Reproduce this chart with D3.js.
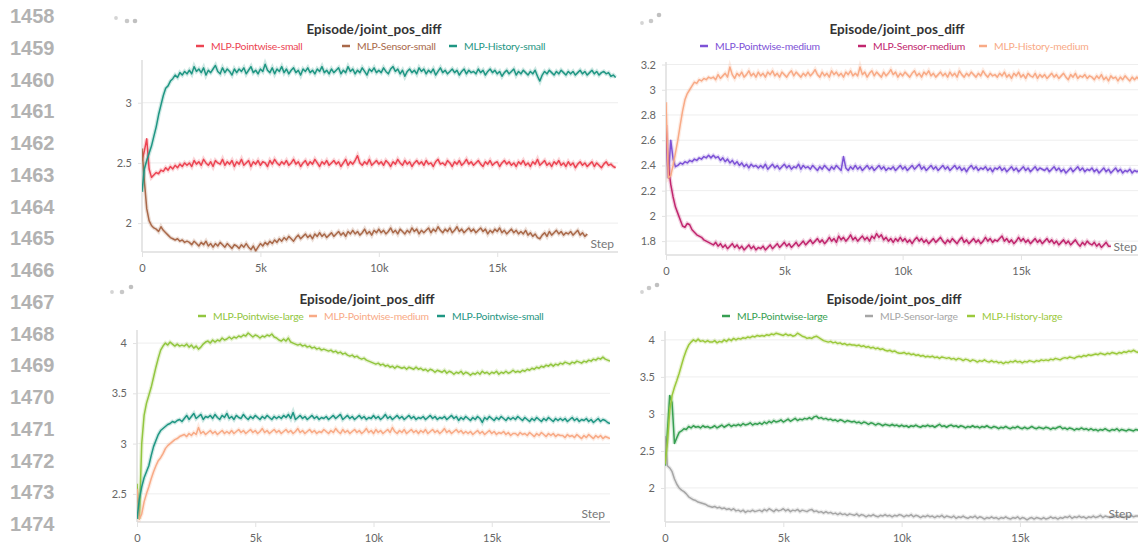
<!DOCTYPE html>
<html>
<head>
<meta charset="utf-8">
<script src="https://cdn.jsdelivr.net/npm/d3@7"></script>
<style>
  body { margin: 0; background: #fff; }
  svg { display: block; font-family: Lato, "Open Sans", sans-serif; }
</style>
</head>
<body>
<svg id="chart" width="1138" height="545"></svg>
<script>
// logged every 100 steps
var steps = d3.range(0, 20001, 100);
var xTicks = [0, 5000, 10000, 15000];
var lineNumbers = d3.range(1458, 1475);

// ---- top left: small models
var pointwiseSmall = [
  2.52, 2.6, 2.7, 2.45, 2.38, 2.4, 2.42, 2.41, 2.44, 2.43, 2.46, 2.44, 2.47, 2.45, 2.48, 2.46, 2.49, 2.47, 2.5, 2.48,
  2.5, 2.47, 2.52, 2.49, 2.51, 2.48, 2.53, 2.5, 2.48, 2.51, 2.47, 2.52, 2.5, 2.49, 2.53, 2.48, 2.51, 2.49, 2.52, 2.47,
  2.51, 2.49, 2.53, 2.48, 2.5, 2.52, 2.47, 2.51, 2.49, 2.52, 2.48, 2.51, 2.5, 2.47, 2.52, 2.49, 2.53, 2.5, 2.48, 2.51,
  2.49, 2.52, 2.48, 2.5, 2.53, 2.49, 2.51, 2.47, 2.5, 2.52, 2.48, 2.51, 2.49, 2.53, 2.5, 2.47, 2.51, 2.49, 2.52, 2.48,
  2.5, 2.52, 2.49, 2.51, 2.47, 2.5, 2.53, 2.48, 2.51, 2.49, 2.52, 2.56, 2.5, 2.48, 2.51, 2.49, 2.53, 2.48, 2.5, 2.52,
  2.49, 2.51, 2.48, 2.52, 2.5, 2.47, 2.51, 2.49, 2.53, 2.5, 2.48, 2.52, 2.49, 2.51, 2.47, 2.5, 2.52, 2.49, 2.51, 2.48,
  2.52, 2.49, 2.5, 2.47, 2.51, 2.53, 2.49, 2.5, 2.48, 2.52, 2.5, 2.47, 2.51, 2.49, 2.52, 2.48, 2.5, 2.53, 2.49, 2.51,
  2.48, 2.5, 2.52, 2.49, 2.47, 2.51, 2.49, 2.52, 2.48, 2.5, 2.51, 2.47, 2.5, 2.52, 2.49, 2.51, 2.48, 2.5, 2.47, 2.51,
  2.49, 2.52, 2.48, 2.5, 2.47, 2.51, 2.49, 2.53, 2.48, 2.5, 2.52, 2.48, 2.5, 2.47, 2.51, 2.49, 2.52, 2.48, 2.5, 2.47,
  2.51, 2.48, 2.5, 2.46, 2.49, 2.51, 2.48, 2.5, 2.47, 2.49, 2.51, 2.47, 2.5, 2.48, 2.46, 2.49, 2.51, 2.48, 2.49, 2.47,
  2.46];
var sensorSmall = [
  2.62, 2.35, 2.12, 2.02, 1.98, 1.96, 1.95, 1.93, 1.97, 1.94, 1.92, 1.9, 1.88, 1.87, 1.86, 1.87, 1.85, 1.86, 1.84, 1.85,
  1.84, 1.82, 1.85, 1.83, 1.81, 1.84, 1.82, 1.85, 1.81, 1.83, 1.8, 1.83, 1.81, 1.84, 1.82, 1.8, 1.83, 1.81, 1.79, 1.82,
  1.81, 1.79, 1.82, 1.8, 1.83, 1.8, 1.78, 1.81, 1.77, 1.8, 1.83, 1.81, 1.84, 1.82, 1.85, 1.83, 1.86, 1.84, 1.87, 1.85,
  1.88, 1.86, 1.89, 1.87, 1.85, 1.88, 1.9, 1.87, 1.89, 1.91, 1.88, 1.9, 1.87, 1.91, 1.89, 1.92, 1.89, 1.91, 1.88, 1.9,
  1.92, 1.89, 1.91, 1.93, 1.9, 1.92, 1.89, 1.93, 1.91, 1.94, 1.91, 1.93, 1.9, 1.92, 1.95, 1.91, 1.93, 1.9, 1.94, 1.92,
  1.95, 1.92, 1.94, 1.91, 1.93, 1.96, 1.92, 1.94, 1.91, 1.95, 1.93, 1.91, 1.94, 1.92, 1.96, 1.93, 1.95, 1.91, 1.94, 1.92,
  1.94, 1.96, 1.92, 1.95, 1.93, 1.97, 1.94, 1.92, 1.95, 1.93, 1.96, 1.92, 1.94, 1.97, 1.93, 1.95, 1.92, 1.94, 1.96, 1.93,
  1.95, 1.92, 1.94, 1.96, 1.93, 1.95, 1.91, 1.94, 1.92, 1.95, 1.93, 1.96, 1.92, 1.94, 1.91, 1.93, 1.95, 1.92, 1.94, 1.91,
  1.93, 1.91, 1.94, 1.9, 1.92, 1.89, 1.91, 1.88, 1.87, 1.9, 1.92, 1.89, 1.93, 1.9, 1.92, 1.94, 1.91, 1.93, 1.9, 1.92,
  1.91, 1.93, 1.9, 1.92, 1.94, 1.9, 1.92, 1.89, 1.91];
var historySmall = [
  2.26, 2.45, 2.52, 2.58, 2.64, 2.72, 2.8, 2.9, 2.98, 3.06, 3.12, 3.14, 3.18, 3.2, 3.23, 3.21, 3.25, 3.23, 3.26, 3.24,
  3.27, 3.24, 3.3, 3.26, 3.28, 3.25, 3.29, 3.23, 3.27, 3.25, 3.28, 3.31, 3.26, 3.24, 3.29, 3.25, 3.28, 3.26, 3.23, 3.28,
  3.25, 3.28, 3.26, 3.29, 3.24, 3.27, 3.3, 3.25, 3.27, 3.24, 3.28, 3.26, 3.32, 3.27, 3.25, 3.29, 3.24, 3.28, 3.26, 3.3,
  3.25, 3.28, 3.24, 3.27, 3.29, 3.25, 3.27, 3.23, 3.28, 3.26, 3.29, 3.25, 3.27, 3.24, 3.28, 3.26, 3.3, 3.25, 3.27, 3.24,
  3.28, 3.25, 3.27, 3.29, 3.24, 3.27, 3.25, 3.3, 3.26, 3.28, 3.24, 3.27, 3.25, 3.29, 3.26, 3.23, 3.28, 3.26, 3.29, 3.25,
  3.27, 3.25, 3.29, 3.26, 3.24, 3.28, 3.3, 3.26, 3.28, 3.24, 3.27, 3.22, 3.26, 3.28, 3.25, 3.27, 3.24, 3.29, 3.26, 3.28,
  3.24, 3.27, 3.25, 3.28, 3.23, 3.26, 3.29, 3.25, 3.27, 3.24, 3.26, 3.28, 3.25, 3.27, 3.23, 3.26, 3.28, 3.24, 3.27, 3.25,
  3.26, 3.24, 3.28, 3.25, 3.27, 3.23, 3.26, 3.28, 3.25, 3.27, 3.24, 3.26, 3.22, 3.25, 3.27, 3.24, 3.26, 3.28, 3.23, 3.26,
  3.24, 3.27, 3.25, 3.23, 3.26, 3.24, 3.27, 3.22, 3.18, 3.23, 3.26, 3.24, 3.27, 3.25, 3.23, 3.26, 3.24, 3.27, 3.25, 3.23,
  3.26, 3.24, 3.26, 3.23, 3.25, 3.27, 3.24, 3.26, 3.23, 3.25, 3.27, 3.24, 3.26, 3.23, 3.25, 3.26, 3.24, 3.25, 3.22, 3.23,
  3.21];

// ---- top right: medium models
var pointwiseMedium = [
  2.62, 2.3, 2.6, 2.45, 2.39, 2.4, 2.42, 2.41, 2.43, 2.42, 2.44, 2.43, 2.45, 2.44, 2.46, 2.45, 2.47, 2.46, 2.48, 2.46,
  2.48, 2.46, 2.47, 2.44, 2.46, 2.43, 2.45, 2.42, 2.44, 2.41, 2.43, 2.4, 2.42, 2.39, 2.41, 2.38, 2.41, 2.39, 2.4, 2.38,
  2.4, 2.38, 2.41, 2.37, 2.39, 2.41, 2.38, 2.4, 2.37, 2.39, 2.41, 2.38, 2.4, 2.37, 2.39, 2.38, 2.41, 2.37, 2.4, 2.38,
  2.39, 2.37, 2.4, 2.38, 2.36, 2.39, 2.37, 2.4, 2.38, 2.36, 2.39, 2.37, 2.4, 2.38, 2.36, 2.47, 2.38, 2.36, 2.39, 2.37,
  2.4, 2.37, 2.39, 2.36, 2.38, 2.4, 2.37, 2.39, 2.36, 2.38, 2.4, 2.37, 2.39, 2.36, 2.38, 2.37, 2.39, 2.36, 2.38, 2.4,
  2.37, 2.39, 2.36, 2.38, 2.4, 2.37, 2.39, 2.41, 2.37, 2.39, 2.36, 2.38, 2.4, 2.37, 2.39, 2.36, 2.38, 2.4, 2.37, 2.39,
  2.36, 2.38, 2.4, 2.37, 2.39, 2.36, 2.38, 2.35, 2.38, 2.4, 2.37, 2.39, 2.36, 2.38, 2.37, 2.39, 2.36, 2.38, 2.35, 2.38,
  2.37, 2.39, 2.36, 2.38, 2.35, 2.37, 2.39, 2.36, 2.38, 2.35, 2.37, 2.39, 2.36, 2.38, 2.35, 2.37, 2.39, 2.36, 2.38, 2.37,
  2.36, 2.38, 2.35, 2.37, 2.39, 2.36, 2.38, 2.35, 2.37, 2.34, 2.36, 2.38, 2.35, 2.37, 2.39, 2.36, 2.38, 2.35, 2.37, 2.36,
  2.38, 2.35, 2.37, 2.34, 2.36, 2.38, 2.35, 2.37, 2.34, 2.36, 2.38, 2.35, 2.37, 2.34, 2.36, 2.35, 2.37, 2.34, 2.36, 2.35,
  2.36];
var sensorMedium = [
  2.72, 2.4, 2.25, 2.15, 2.07, 2.02, 1.97, 1.92, 1.91, 1.94, 1.93, 1.89, 1.87, 1.85, 1.84, 1.83, 1.81, 1.8, 1.79, 1.78,
  1.77, 1.79, 1.76, 1.78, 1.75, 1.77, 1.74, 1.76, 1.78, 1.75, 1.77, 1.74, 1.76, 1.73, 1.75, 1.77, 1.74, 1.76, 1.73, 1.75,
  1.74, 1.76, 1.73, 1.75, 1.77, 1.74, 1.76, 1.78, 1.75, 1.77, 1.79, 1.76, 1.78, 1.75, 1.77, 1.79, 1.76, 1.78, 1.8, 1.77,
  1.79, 1.81, 1.78, 1.8, 1.82, 1.79, 1.81, 1.78, 1.8, 1.83, 1.8, 1.82, 1.79, 1.84, 1.81, 1.83, 1.8, 1.82, 1.85, 1.81,
  1.83, 1.8, 1.82, 1.84, 1.81, 1.83, 1.8, 1.84, 1.82, 1.86, 1.83, 1.85, 1.81, 1.83, 1.8, 1.82, 1.79, 1.82, 1.8, 1.83,
  1.8, 1.82, 1.79, 1.81, 1.78, 1.81, 1.83, 1.8, 1.82, 1.79, 1.81, 1.78, 1.8, 1.82, 1.79, 1.81, 1.83, 1.8, 1.78, 1.81,
  1.79, 1.82, 1.8, 1.78, 1.81, 1.83, 1.79, 1.81, 1.78, 1.8, 1.82, 1.79, 1.81, 1.78, 1.8, 1.83, 1.8, 1.82, 1.79, 1.81,
  1.8, 1.82, 1.84, 1.8, 1.82, 1.79, 1.81, 1.78, 1.8, 1.83, 1.8, 1.82, 1.79, 1.81, 1.78, 1.8, 1.82, 1.79, 1.81, 1.78,
  1.8, 1.82, 1.79, 1.81, 1.78, 1.8, 1.77, 1.79, 1.81, 1.78, 1.8, 1.77, 1.79, 1.81, 1.78, 1.76, 1.79, 1.77, 1.8, 1.78,
  1.77, 1.79, 1.76, 1.78, 1.75, 1.77, 1.79, 1.76, 1.76];
var historyMedium = [
  2.9, 2.3, 2.32, 2.4, 2.5, 2.6, 2.72, 2.83, 2.92, 2.97, 3.0, 3.03, 3.06, 3.05, 3.08, 3.07, 3.09, 3.08, 3.1, 3.09,
  3.1, 3.08, 3.12, 3.09, 3.11, 3.13, 3.1, 3.18, 3.12, 3.09, 3.13, 3.11, 3.14, 3.1, 3.12, 3.15, 3.11, 3.13, 3.1, 3.14,
  3.11, 3.13, 3.1, 3.14, 3.12, 3.15, 3.11, 3.13, 3.1, 3.14, 3.12, 3.1, 3.13, 3.15, 3.11, 3.14, 3.12, 3.1, 3.13, 3.11,
  3.14, 3.11, 3.13, 3.16, 3.12, 3.1, 3.14, 3.11, 3.13, 3.1, 3.15, 3.12, 3.14, 3.11, 3.13, 3.1, 3.14, 3.12, 3.15, 3.11,
  3.13, 3.11, 3.18, 3.12, 3.14, 3.1, 3.13, 3.15, 3.11, 3.14, 3.12, 3.1, 3.14, 3.11, 3.13, 3.16, 3.12, 3.14, 3.1, 3.13,
  3.11, 3.14, 3.12, 3.1, 3.13, 3.15, 3.11, 3.13, 3.1, 3.14, 3.12, 3.15, 3.11, 3.13, 3.1, 3.12, 3.14, 3.11, 3.13, 3.1,
  3.14, 3.11, 3.13, 3.1, 3.15, 3.12, 3.1, 3.13, 3.11, 3.14, 3.12, 3.1, 3.13, 3.11, 3.15, 3.12, 3.1, 3.13, 3.11, 3.12,
  3.1, 3.13, 3.11, 3.14, 3.1, 3.12, 3.09, 3.13, 3.11, 3.14, 3.1, 3.12, 3.09, 3.13, 3.11, 3.1, 3.13, 3.09, 3.12, 3.1,
  3.12, 3.09, 3.11, 3.13, 3.1, 3.12, 3.09, 3.11, 3.13, 3.1, 3.08, 3.12, 3.1, 3.13, 3.09, 3.11, 3.1, 3.12, 3.09, 3.11,
  3.1, 3.08, 3.11, 3.09, 3.12, 3.08, 3.1, 3.07, 3.11, 3.09, 3.1, 3.07, 3.1, 3.08, 3.11, 3.09, 3.07, 3.1, 3.08, 3.1,
  3.08];

// ---- bottom left: pointwise sizes
var pwLarge = [
  2.6, 2.25, 3.0, 3.28, 3.4, 3.48, 3.56, 3.66, 3.76, 3.85, 3.93, 3.97, 4.0, 3.98, 4.01, 3.99, 3.97, 3.99, 3.97, 3.98,
  3.97, 3.99, 3.96, 3.98, 3.95, 3.97, 3.94, 3.96, 3.99, 4.01, 4.02, 4.0, 4.03, 4.01, 4.03, 4.02, 4.05, 4.03, 4.04, 4.06,
  4.04, 4.06, 4.05, 4.07, 4.06, 4.08, 4.07, 4.1, 4.08, 4.06, 4.08, 4.07, 4.05, 4.07, 4.06, 4.08, 4.07, 4.09, 4.06, 4.05,
  4.03, 4.02, 4.04, 4.02, 4.05, 4.01, 4.0, 3.99, 3.98, 3.99, 3.97, 3.98, 3.96, 3.97, 3.95, 3.96, 3.94, 3.95, 3.93, 3.94,
  3.93, 3.92, 3.93, 3.91, 3.92, 3.9, 3.91, 3.89, 3.9, 3.88, 3.87, 3.88, 3.86, 3.87, 3.85, 3.84, 3.85, 3.83, 3.82, 3.81,
  3.8, 3.79, 3.8, 3.78, 3.79, 3.77, 3.78, 3.76, 3.77, 3.75, 3.77, 3.76, 3.75, 3.76, 3.74, 3.76, 3.75, 3.74, 3.76, 3.74,
  3.75, 3.73, 3.74, 3.72, 3.74, 3.73, 3.71, 3.73, 3.72, 3.71, 3.73, 3.7, 3.72, 3.71, 3.69, 3.71, 3.7, 3.72, 3.69, 3.71,
  3.7, 3.68, 3.7, 3.69, 3.71, 3.69, 3.72, 3.7, 3.71, 3.69, 3.71, 3.7, 3.72, 3.69, 3.71, 3.7, 3.72, 3.7, 3.71, 3.73,
  3.71, 3.72, 3.71, 3.73, 3.72, 3.74, 3.73, 3.75, 3.74, 3.76, 3.75, 3.77, 3.76, 3.78, 3.77, 3.79, 3.77, 3.79, 3.78, 3.8,
  3.79, 3.81, 3.8, 3.79, 3.81, 3.8, 3.82, 3.81, 3.8, 3.82, 3.81, 3.83, 3.82, 3.84, 3.83, 3.85, 3.84, 3.86, 3.84, 3.83,
  3.82];
var pwMedium = [
  2.55, 2.25, 2.3, 2.42, 2.5, 2.57, 2.65, 2.72, 2.78, 2.83, 2.86, 2.9, 2.95, 2.98, 3.0, 3.02, 3.04, 3.05, 3.07, 3.08,
  3.09, 3.07, 3.1, 3.08, 3.11, 3.09, 3.16, 3.1, 3.12, 3.09, 3.11, 3.13, 3.1, 3.12, 3.09, 3.11, 3.13, 3.1, 3.12, 3.1,
  3.13, 3.1, 3.12, 3.14, 3.11, 3.13, 3.1, 3.12, 3.14, 3.11, 3.13, 3.1, 3.12, 3.15, 3.11, 3.13, 3.1, 3.12, 3.14, 3.11,
  3.13, 3.1, 3.12, 3.14, 3.11, 3.13, 3.1, 3.12, 3.15, 3.11, 3.13, 3.1, 3.12, 3.14, 3.11, 3.13, 3.1, 3.12, 3.11, 3.14,
  3.12, 3.1, 3.13, 3.11, 3.15, 3.12, 3.1, 3.14, 3.11, 3.13, 3.1, 3.12, 3.14, 3.11, 3.13, 3.1, 3.12, 3.15, 3.11, 3.13,
  3.1, 3.14, 3.11, 3.13, 3.1, 3.12, 3.14, 3.11, 3.16, 3.12, 3.1, 3.13, 3.11, 3.14, 3.1, 3.12, 3.14, 3.11, 3.13, 3.1,
  3.13, 3.11, 3.14, 3.1, 3.12, 3.14, 3.11, 3.13, 3.1, 3.12, 3.15, 3.11, 3.13, 3.1, 3.12, 3.14, 3.11, 3.13, 3.1, 3.12,
  3.1, 3.12, 3.09, 3.11, 3.13, 3.1, 3.12, 3.09, 3.11, 3.13, 3.1, 3.12, 3.09, 3.11, 3.1, 3.12, 3.09, 3.11, 3.08, 3.1,
  3.1, 3.08, 3.11, 3.09, 3.1, 3.08, 3.11, 3.09, 3.07, 3.1, 3.08, 3.11, 3.09, 3.07, 3.1, 3.08, 3.1, 3.07, 3.09, 3.08,
  3.08, 3.06, 3.09, 3.07, 3.08, 3.06, 3.09, 3.07, 3.05, 3.08, 3.06, 3.09, 3.07, 3.05, 3.08, 3.06, 3.08, 3.05, 3.07, 3.06,
  3.05];
var pwSmall = [
  2.25, 2.45, 2.57, 2.66, 2.72, 2.78, 2.88, 2.97, 3.03, 3.09, 3.13, 3.15, 3.17, 3.19, 3.2, 3.22, 3.21, 3.23, 3.24, 3.22,
  3.25, 3.28, 3.24, 3.27, 3.3, 3.25, 3.27, 3.29, 3.24, 3.27, 3.26, 3.28, 3.25, 3.29, 3.26, 3.24, 3.28, 3.26, 3.3, 3.25,
  3.27, 3.24, 3.28, 3.26, 3.25, 3.29, 3.26, 3.24, 3.27, 3.25, 3.28, 3.26, 3.24, 3.27, 3.25, 3.28, 3.26, 3.24, 3.27, 3.25,
  3.27, 3.25, 3.28, 3.26, 3.29, 3.25, 3.31, 3.24, 3.26, 3.28, 3.25, 3.27, 3.24, 3.26, 3.28, 3.25, 3.27, 3.24, 3.26, 3.25,
  3.27, 3.24, 3.26, 3.28, 3.25, 3.27, 3.29, 3.24, 3.26, 3.28, 3.25, 3.27, 3.24, 3.26, 3.28, 3.25, 3.27, 3.24, 3.26, 3.25,
  3.28, 3.25, 3.27, 3.24, 3.26, 3.29, 3.25, 3.27, 3.24, 3.26, 3.28, 3.25, 3.27, 3.24, 3.26, 3.28, 3.25, 3.27, 3.24, 3.26,
  3.25, 3.27, 3.24, 3.26, 3.28, 3.25, 3.27, 3.24, 3.26, 3.25, 3.27, 3.24, 3.26, 3.28, 3.25, 3.27, 3.23, 3.26, 3.24, 3.27,
  3.25, 3.23, 3.26, 3.24, 3.27, 3.25, 3.21, 3.26, 3.24, 3.27, 3.25, 3.23, 3.26, 3.24, 3.27, 3.25, 3.23, 3.26, 3.24, 3.26,
  3.24, 3.27, 3.25, 3.23, 3.26, 3.24, 3.22, 3.25, 3.23, 3.26, 3.24, 3.22, 3.25, 3.23, 3.26, 3.24, 3.22, 3.25, 3.23, 3.25,
  3.23, 3.25, 3.22, 3.24, 3.26, 3.23, 3.25, 3.22, 3.24, 3.23, 3.25, 3.22, 3.24, 3.21, 3.23, 3.25, 3.22, 3.24, 3.23, 3.21,
  3.2];

// ---- bottom right: large models
var pointwiseLarge = [
  2.3, 2.75, 3.25, 3.15, 2.6, 2.68, 2.75, 2.77, 2.8, 2.79, 2.83, 2.81, 2.84, 2.82, 2.83, 2.81, 2.84, 2.82, 2.83, 2.81,
  2.82, 2.84, 2.81, 2.83, 2.85, 2.82, 2.84, 2.86, 2.83, 2.85, 2.84, 2.86, 2.84, 2.87, 2.85, 2.86, 2.88, 2.85, 2.87, 2.86,
  2.88, 2.86, 2.89, 2.87, 2.9, 2.88, 2.91, 2.89, 2.9, 2.92, 2.89, 2.91, 2.93, 2.9, 2.92, 2.94, 2.91, 2.93, 2.92, 2.94,
  2.93, 2.95, 2.93, 2.96, 2.97, 2.94, 2.95, 2.93, 2.94, 2.92, 2.93, 2.91, 2.92, 2.9, 2.92, 2.91, 2.89, 2.91, 2.9, 2.89,
  2.9, 2.88, 2.89, 2.87, 2.89, 2.88, 2.86, 2.88, 2.87, 2.85, 2.87, 2.86, 2.84, 2.86, 2.85, 2.84, 2.86, 2.84, 2.85, 2.83,
  2.85, 2.83, 2.84, 2.82, 2.84, 2.83, 2.85, 2.83, 2.82, 2.84, 2.83, 2.85, 2.83, 2.84, 2.82, 2.84, 2.86, 2.83, 2.84, 2.82,
  2.84, 2.85, 2.83, 2.84, 2.82, 2.84, 2.83, 2.81, 2.83, 2.82, 2.84, 2.82, 2.83, 2.81, 2.83, 2.82, 2.84, 2.82, 2.81, 2.83,
  2.82, 2.8, 2.82, 2.81, 2.83, 2.81, 2.8, 2.82, 2.81, 2.83, 2.81, 2.8, 2.82, 2.8, 2.81, 2.83, 2.81, 2.8, 2.82, 2.81,
  2.8, 2.82, 2.81, 2.79, 2.81, 2.8, 2.82, 2.83, 2.8, 2.81, 2.79, 2.81, 2.8, 2.78, 2.8, 2.79, 2.81, 2.79, 2.8, 2.78,
  2.8, 2.78, 2.79, 2.77, 2.79, 2.78, 2.8, 2.78, 2.77, 2.79, 2.78, 2.8, 2.77, 2.79, 2.78, 2.77, 2.79, 2.78, 2.77, 2.79,
  2.78];
var sensorLarge = [
  2.7, 2.3, 2.27, 2.22, 2.12, 2.05, 2.0, 1.97, 1.95, 1.92, 1.88, 1.86, 1.84, 1.83, 1.81, 1.8, 1.79, 1.78, 1.76, 1.75,
  1.74, 1.75, 1.73, 1.74, 1.72, 1.73, 1.71, 1.72, 1.7, 1.72, 1.69, 1.7, 1.68, 1.7, 1.67, 1.69, 1.68, 1.7, 1.68, 1.69,
  1.7, 1.68, 1.71, 1.69, 1.72, 1.7, 1.68, 1.71, 1.69, 1.7, 1.72, 1.69, 1.71, 1.68, 1.7, 1.69, 1.71, 1.68, 1.7, 1.69,
  1.68, 1.7, 1.71, 1.68, 1.69, 1.67, 1.68, 1.66, 1.68, 1.66, 1.67, 1.65, 1.66, 1.64, 1.66, 1.64, 1.65, 1.63, 1.65, 1.64,
  1.63, 1.65, 1.62, 1.64, 1.63, 1.61, 1.63, 1.62, 1.64, 1.62, 1.61, 1.63, 1.62, 1.64, 1.62, 1.63, 1.61, 1.63, 1.62, 1.64,
  1.63, 1.61, 1.63, 1.62, 1.64, 1.61, 1.63, 1.62, 1.6, 1.62, 1.61, 1.63, 1.61, 1.62, 1.6, 1.62, 1.61, 1.63, 1.6, 1.62,
  1.61, 1.6, 1.62, 1.59, 1.61, 1.6, 1.62, 1.6, 1.59, 1.61, 1.6, 1.62, 1.59, 1.61, 1.6, 1.58, 1.6, 1.59, 1.61, 1.59,
  1.6, 1.58, 1.6, 1.59, 1.61, 1.59, 1.58, 1.6, 1.59, 1.61, 1.58, 1.6, 1.59, 1.57, 1.59, 1.6, 1.58, 1.6, 1.59, 1.58,
  1.6, 1.58, 1.59, 1.61, 1.59, 1.6, 1.58, 1.6, 1.59, 1.61, 1.6, 1.62, 1.59, 1.61, 1.6, 1.62, 1.6, 1.61, 1.59, 1.61,
  1.6, 1.62, 1.6, 1.61, 1.63, 1.6, 1.62, 1.61, 1.6, 1.62, 1.61, 1.63, 1.61, 1.62, 1.6, 1.62, 1.61, 1.63, 1.61, 1.62,
  1.62];
var historyLarge = [
  2.32, 2.6, 3.05, 3.25, 3.36, 3.45, 3.55, 3.66, 3.77, 3.86, 3.93, 3.97, 4.0, 3.98, 4.01, 3.98, 3.99, 3.97, 3.99, 3.97,
  3.97, 3.99, 3.96, 3.98, 3.97, 4.0, 3.98, 4.01, 3.99, 4.02, 4.0, 4.02, 4.01, 4.03, 4.02, 4.04, 4.03, 4.05, 4.04, 4.06,
  4.05, 4.06, 4.05, 4.07, 4.06, 4.08, 4.07, 4.09, 4.08, 4.07, 4.06, 4.08, 4.06, 4.07, 4.05, 4.06, 4.09, 4.07, 4.05, 4.04,
  4.02, 4.03, 4.02, 4.04, 4.05, 4.03, 4.01, 3.99, 3.98, 3.97, 3.98, 3.96, 3.97, 3.95, 3.96, 3.94, 3.95, 3.93, 3.94, 3.93,
  3.93, 3.92, 3.93, 3.91, 3.92, 3.9, 3.91, 3.89, 3.9, 3.88, 3.89, 3.87, 3.88, 3.86, 3.85, 3.86, 3.84, 3.85, 3.83, 3.82,
  3.82, 3.83, 3.81, 3.82, 3.8, 3.81, 3.79, 3.8, 3.78, 3.79, 3.77, 3.78, 3.77, 3.78, 3.76, 3.77, 3.75, 3.77, 3.76, 3.75,
  3.76, 3.74, 3.75, 3.73, 3.75, 3.74, 3.72, 3.74, 3.73, 3.71, 3.73, 3.72, 3.7, 3.72, 3.71, 3.73, 3.71, 3.7, 3.72, 3.7,
  3.71, 3.69, 3.7, 3.68, 3.7, 3.69, 3.71, 3.7, 3.72, 3.7, 3.71, 3.69, 3.71, 3.7, 3.72, 3.71, 3.7, 3.72, 3.71, 3.73,
  3.72, 3.73, 3.72, 3.74, 3.73, 3.75, 3.74, 3.73, 3.75, 3.76, 3.75, 3.77, 3.76, 3.75, 3.77, 3.78, 3.77, 3.79, 3.78, 3.8,
  3.79, 3.8, 3.81, 3.8, 3.82, 3.81, 3.8, 3.82, 3.81, 3.83, 3.82, 3.81, 3.83, 3.82, 3.84, 3.83, 3.85, 3.84, 3.86, 3.84,
  3.83];

var panels = [
  { x: [142, 618], xMax: 20100, y: [252, 60], yDomain: [1.76, 3.355], yTicks: [2, 2.5, 3], titleX: 374, top: 0,
    legendX: [196, 342, 449], stepX: 614, dots: [[116, 18], [127, 21], [135, 21]],
    series: [
      { name: 'MLP-Pointwise-small', color: '#ec4452', values: pointwiseSmall },
      { name: 'MLP-Sensor-small', color: '#a9694a', values: sensorSmall },
      { name: 'MLP-History-small', color: '#1f9683', values: historySmall }
    ] },
  { x: [666, 1144], xMax: 20200, y: [255, 62], yDomain: [1.69, 3.22], yTicks: [1.8, 2, 2.2, 2.4, 2.6, 2.8, 3, 3.2], titleX: 897, top: 0,
    legendX: [700, 858, 979], stepX: 1137, dots: [[642, 23], [651, 21], [659, 15]],
    series: [
      { name: 'MLP-Pointwise-medium', color: '#7d52d6', values: pointwiseMedium },
      { name: 'MLP-Sensor-medium', color: '#c1266e', values: sensorMedium },
      { name: 'MLP-History-medium', color: '#f8aa86', values: historyMedium }
    ] },
  { x: [137, 610], xMax: 20000, y: [522, 330], yDomain: [2.22, 4.13], yTicks: [2.5, 3, 3.5, 4], titleX: 367, top: 270,
    legendX: [198, 309, 437], stepX: 605, dots: [[112, 292], [122, 292], [131, 287]],
    series: [
      { name: 'MLP-Pointwise-large', color: '#92c640', values: pwLarge },
      { name: 'MLP-Pointwise-medium', color: '#f8aa86', values: pwMedium },
      { name: 'MLP-Pointwise-small', color: '#1f9683', values: pwSmall }
    ] },
  { x: [665, 1143], xMax: 20200, y: [522, 331], yDomain: [1.54, 4.12], yTicks: [2, 2.5, 3, 3.5, 4], titleX: 894, top: 270,
    legendX: [722, 865, 967], stepX: 1132, dots: [[642, 292], [649, 288], [657, 285]],
    series: [
      { name: 'MLP-Pointwise-large', color: '#379f52', values: pointwiseLarge },
      { name: 'MLP-Sensor-large', color: '#a6a6a6', values: sensorLarge },
      { name: 'MLP-History-large', color: '#9bc93c', values: historyLarge }
    ] }
];

var svg = d3.select('#chart');

// line numbers down the left margin
svg.append('g').selectAll('text')
  .data(lineNumbers)
  .enter()
  .append('text')
  .attr('x', 10)
  .attr('y', (d, i) => 23 + i * 31.75)
  .attr('fill', '#b2b2b2')
  .style('font-family', '"Liberation Sans", Arial, sans-serif')
  .style('font-weight', 'bold')
  .style('font-size', '20px')
  .text(d => d);

var fmtK = d => d === 0 ? '0' : (d / 1000) + 'k';

panels.forEach(function(p, pi) {
  var g = svg.append('g');
  var xScale = d3.scaleLinear().domain([0, p.xMax]).range(p.x);
  var yScale = d3.scaleLinear().domain(p.yDomain).range(p.y);

  // spinner dots
  g.selectAll('circle.dot')
    .data(p.dots)
    .enter()
    .append('circle')
    .attr('cx', d => d[0])
    .attr('cy', d => d[1])
    .attr('r', (d, i) => i === 0 ? 1.9 : 2.3)
    .attr('fill', (d, i) => ['#d4d4d4', '#c8c8c8', '#c0c0c0'][i]);

  g.append('text')
    .attr('x', p.titleX)
    .attr('y', p.top + 34)
    .attr('text-anchor', 'middle')
    .attr('fill', '#333')
    .style('font-size', '13.5px')
    .style('font-weight', 'bold')
    .text('Episode/joint_pos_diff');

  // legend
  var leg = g.selectAll('g.leg')
    .data(p.series)
    .enter()
    .append('g')
    .attr('transform', (d, i) => `translate(${p.legendX[i]}, ${p.top + 46})`);
  leg.append('line')
    .attr('x1', 0).attr('x2', 8)
    .attr('stroke', d => d.color)
    .attr('stroke-width', 2.5);
  leg.append('text')
    .attr('x', 15)
    .attr('y', 3.8)
    .attr('fill', d => d.color)
    .style('font-size', '10.4px')
    .style('letter-spacing', '-0.25px')
    .text(d => d.name);

  // grid
  g.selectAll('line.grid')
    .data(p.yTicks)
    .enter()
    .append('line')
    .attr('x1', p.x[0]).attr('x2', p.x[1])
    .attr('y1', d => yScale(d)).attr('y2', d => yScale(d))
    .attr('stroke', '#eeeeee');

  var yAxis = d3.axisLeft(yScale).tickValues(p.yTicks).tickFormat(d => String(d)).tickSize(4).tickPadding(6);
  var yG = g.append('g')
    .attr('transform', `translate(${p.x[0]}, 0)`)
    .call(yAxis);

  var xAxis = d3.axisBottom(xScale).tickValues(xTicks).tickFormat(fmtK).tickSize(5).tickPadding(7);
  var xG = g.append('g')
    .attr('transform', `translate(0, ${p.y[0]})`)
    .call(xAxis);

  [yG, xG].forEach(function(a) {
    a.select('.domain').attr('stroke', '#dedede').attr('stroke-width', 1.5);
    a.selectAll('.tick line').attr('stroke', '#e2e2e2');
    a.selectAll('.tick text').attr('fill', '#666').style('font-size', '11px').style('font-family', 'Lato, sans-serif');
  });
  yG.select('.domain').attr('d', `M0,${p.y[0]}V${p.y[1]}`);
  xG.select('.domain').attr('d', `M${p.x[0]},0H${p.x[1]}`);

  // lines
  var clipId = 'clip' + pi;
  g.append('clipPath').attr('id', clipId)
    .append('rect')
    .attr('x', p.x[0]).attr('y', p.y[1] - 10)
    .attr('width', p.x[1] - p.x[0]).attr('height', p.y[0] - p.y[1] + 10);

  var line = d3.line()
    .x(d => xScale(d[0]))
    .y(d => yScale(d[1]));

  var lines = g.append('g').attr('clip-path', `url(#${clipId})`);
  p.series.forEach(function(s) {
    var pts = s.values.map((v, i) => [steps[i], v]).filter(d => d[0] !== undefined);
    lines.append('path')
      .datum(pts)
      .attr('d', line)
      .attr('fill', 'none')
      .attr('stroke', s.color)
      .attr('stroke-opacity', 0.22)
      .attr('stroke-width', 4);
    lines.append('path')
      .datum(pts)
      .attr('d', line)
      .attr('fill', 'none')
      .attr('stroke', s.color)
      .attr('stroke-width', 1.5)
      .attr('stroke-linejoin', 'round');
  });

  g.append('text')
    .attr('x', p.stepX)
    .attr('y', p.y[0] - 4)
    .attr('text-anchor', 'end')
    .attr('fill', '#777')
    .style('font-size', '12px')
    .text('Step');
});
</script>
</body>
</html>
